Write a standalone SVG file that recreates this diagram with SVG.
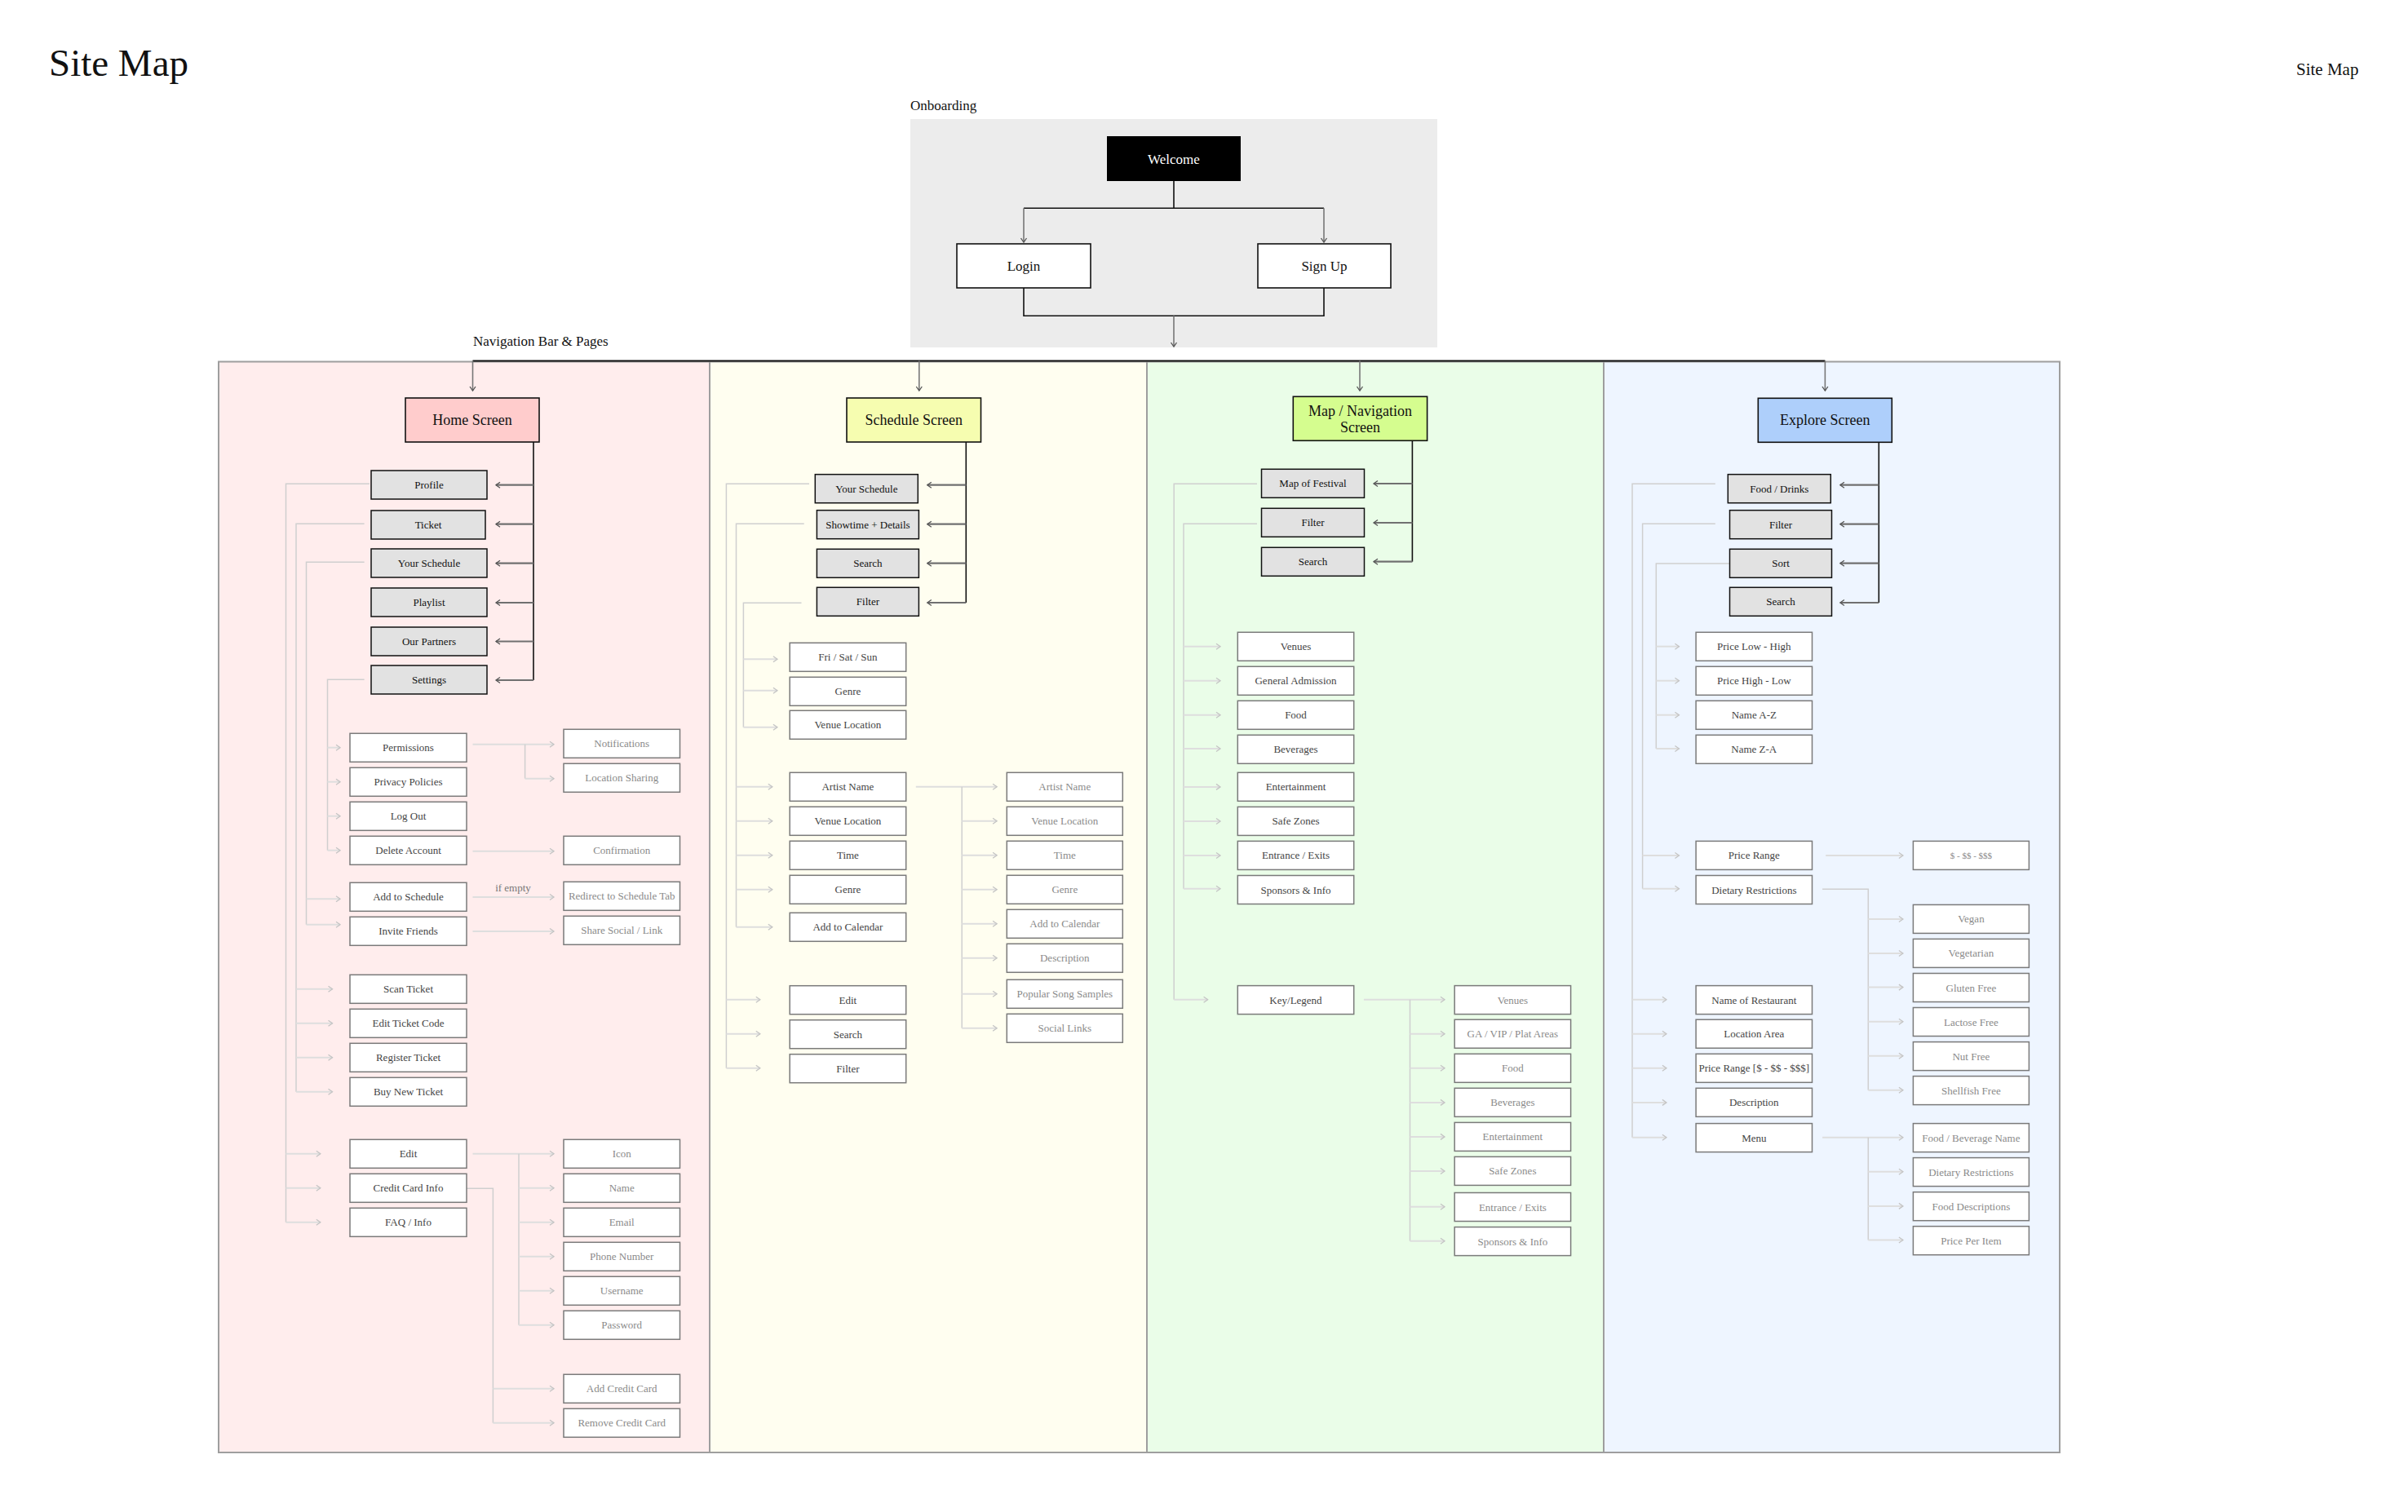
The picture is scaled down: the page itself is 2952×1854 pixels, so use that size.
<svg xmlns="http://www.w3.org/2000/svg" width="2952" height="1854" viewBox="0 0 2952 1854">
<defs>
<style>
text{font-family:"Liberation Serif","DejaVu Serif",serif;text-anchor:middle}
.lbl{text-anchor:start;fill:#111;font-size:17px}
.scr{stroke:#111;stroke-width:1.6}
.scrt{font-size:18px;fill:#111}
.p{fill:#e2e2e2;stroke:#111;stroke-width:1.5}
.s{fill:#fff;stroke:#7a7a7a;stroke-width:1.5}
.tp{font-size:13px;fill:#111}
.ts{font-size:13px;fill:#444}
.tt{font-size:13px;fill:#8a8a8a}
.blk{stroke:#111;stroke-width:1.6;fill:none}
.nav{stroke:#111;stroke-width:2;fill:none}
.darr{stroke:#777;stroke-width:1.6;fill:none;marker-end:url(#aD)}
.parr{stroke:#707070;stroke-width:2.2;fill:none;marker-end:url(#aM)}
.lt{stroke:#cfcfcf;stroke-width:1.5;fill:none}
.la{stroke:#dedede;stroke-width:2;fill:none;marker-end:url(#aL)}
.panel{stroke:#9e9e9e;stroke-width:2}
</style>
<marker id="aD" viewBox="-8 -6 10 12" refX="0" refY="0" markerWidth="10" markerHeight="12" markerUnits="userSpaceOnUse" orient="auto"><path d="M-5,-3.5 L0,0 L-5,3.5" fill="none" stroke="#555" stroke-width="1.3"/></marker>
<marker id="aM" viewBox="-8 -6 10 12" refX="0" refY="0" markerWidth="10" markerHeight="12" markerUnits="userSpaceOnUse" orient="auto"><path d="M-5,-3.5 L0,0 L-5,3.5" fill="none" stroke="#555" stroke-width="1.3"/></marker>
<marker id="aL" viewBox="-8 -6 10 12" refX="0" refY="0" markerWidth="10" markerHeight="12" markerUnits="userSpaceOnUse" orient="auto"><path d="M-5,-3.5 L0,0 L-5,3.5" fill="none" stroke="#c4c4c4" stroke-width="1.3"/></marker>
</defs>
<rect width="2952" height="1854" fill="#fff"/>

<g id="titles">
<text x="60" y="93" style="text-anchor:start;font-size:47px;fill:#111">Site Map</text>
<text x="2815" y="92" style="text-anchor:start;font-size:21px;fill:#111">Site Map</text>
<text class="lbl" x="1116" y="135">Onboarding</text>
<text class="lbl" x="580" y="424">Navigation Bar &amp; Pages</text>
</g>

<g id="areas">
<rect x="1116" y="146" width="646" height="280" fill="#ececec"/>
<rect class="panel" x="268" y="443.5" width="602" height="1337.5" fill="#ffeded"/>
<rect class="panel" x="870" y="443.5" width="536" height="1337.5" fill="#fffef0"/>
<rect class="panel" x="1406" y="443.5" width="560" height="1337.5" fill="#eafde8"/>
<rect class="panel" x="1966" y="443.5" width="559" height="1337.5" fill="#eef5ff"/>
</g>

<g id="connectors">
<path class="blk" d="M1439,222 V255.3 M1255,255.3 H1623"/>
<path class="darr" d="M1255,255.3 V297"/>
<path class="darr" d="M1623,255.3 V297"/>
<path class="blk" d="M1255,353 V387.3 H1623 V353"/>
<path class="darr" d="M1439,387.3 V425"/>
<path class="nav" d="M579.5,442.5 H2237.4"/>
<path class="darr" d="M579.5,442.5 V479"/>
<path class="darr" d="M1126.8,442.5 V479"/>
<path class="darr" d="M1667,442.5 V479"/>
<path class="darr" d="M2237.4,442.5 V479"/>

<path class="blk" d="M654,542 V834"/>
<path class="parr" d="M654,594.7 H608"/>
<path class="parr" d="M654,642.7 H608"/>
<path class="parr" d="M654,690.7 H608"/>
<path class="parr" d="M654,739 H608"/>
<path class="parr" d="M654,786.5 H608"/>
<path class="parr" d="M654,834 H608"/>
<path class="lt" d="M453,593.3 H350.5 V1498.7"/>
<path class="lt" d="M446.6,642.3 H363 V1338.7"/>
<path class="lt" d="M446.6,689.3 H375.5 V1133.7"/>
<path class="lt" d="M446.6,833.3 H401.5 V1042.7"/>
<path class="la" d="M401.5,916.7 H417"/>
<path class="la" d="M401.5,958.7 H417"/>
<path class="la" d="M401.5,1000.7 H417"/>
<path class="la" d="M401.5,1042.7 H417"/>
<path class="la" d="M375.5,1102.3 H417"/>
<path class="la" d="M375.5,1133.7 H417"/>
<path class="la" d="M363,1212.7 H407.5"/>
<path class="la" d="M363,1254.7 H407.5"/>
<path class="la" d="M363,1296.7 H407.5"/>
<path class="la" d="M363,1338.7 H407.5"/>
<path class="la" d="M350.5,1414.7 H392.8"/>
<path class="la" d="M350.5,1456.7 H392.8"/>
<path class="la" d="M350.5,1498.7 H392.8"/>
<path class="la" d="M579.5,912.7 H679"/>
<path class="lt" d="M643.6,912.7 V954.7"/>
<path class="la" d="M643.6,954.7 H679"/>
<path class="la" d="M579.5,1043.7 H679"/>
<path class="la" d="M579.5,1100 H679"/>
<text x="629" y="1093" style="font-size:13px;fill:#777">if empty</text>
<path class="la" d="M579.5,1142 H679"/>
<path class="la" d="M579.5,1414.7 H679"/>
<path class="lt" d="M636,1414.7 V1624.7"/>
<path class="la" d="M636,1456.7 H679"/>
<path class="la" d="M636,1498.7 H679"/>
<path class="la" d="M636,1540.7 H679"/>
<path class="la" d="M636,1582.7 H679"/>
<path class="la" d="M636,1624.7 H679"/>
<path class="lt" d="M571.6,1457.3 H604.4 V1744.7"/>
<path class="la" d="M604.4,1702.7 H679"/>
<path class="la" d="M604.4,1744.7 H679"/>

<path class="blk" d="M1184.3,542 V739"/>
<path class="parr" d="M1184.3,594.7 H1136.8"/>
<path class="parr" d="M1184.3,642.7 H1136.8"/>
<path class="parr" d="M1184.3,690.7 H1136.8"/>
<path class="parr" d="M1184.3,739 H1136.8"/>
<path class="lt" d="M992,593.3 H890.4 V1309.7"/>
<path class="lt" d="M985.7,642.3 H902.5 V1136.7"/>
<path class="lt" d="M982.5,739.3 H911.4 V891.7"/>
<path class="la" d="M911.4,808.3 H952.9"/>
<path class="la" d="M911.4,846.7 H952.9"/>
<path class="la" d="M911.4,891.7 H952.9"/>
<path class="la" d="M902.5,964.7 H946.8"/>
<path class="la" d="M902.5,1006.7 H946.8"/>
<path class="la" d="M902.5,1048.7 H946.8"/>
<path class="la" d="M902.5,1090.7 H946.8"/>
<path class="la" d="M902.5,1136.7 H946.8"/>
<path class="la" d="M890.4,1225.7 H931.8"/>
<path class="la" d="M890.4,1267.7 H931.8"/>
<path class="la" d="M890.4,1309.7 H931.8"/>
<path class="la" d="M1122.8,964.7 H1222.1"/>
<path class="lt" d="M1179.2,964.7 V1260.7"/>
<path class="la" d="M1179.2,1006.7 H1222.1"/>
<path class="la" d="M1179.2,1048.7 H1222.1"/>
<path class="la" d="M1179.2,1090.7 H1222.1"/>
<path class="la" d="M1179.2,1132.7 H1222.1"/>
<path class="la" d="M1179.2,1174.7 H1222.1"/>
<path class="la" d="M1179.2,1218.7 H1222.1"/>
<path class="la" d="M1179.2,1260.7 H1222.1"/>

<path class="blk" d="M1731.4,540.3 V688.7"/>
<path class="parr" d="M1731.4,593 H1684"/>
<path class="parr" d="M1731.4,641 H1684"/>
<path class="parr" d="M1731.4,688.7 H1684"/>
<path class="lt" d="M1541,593.3 H1439.2 V1225.7"/>
<path class="lt" d="M1541,642.3 H1451 V1089.8"/>
<path class="la" d="M1451,792.7 H1496"/>
<path class="la" d="M1451,834.7 H1496"/>
<path class="la" d="M1451,876.7 H1496"/>
<path class="la" d="M1451,918 H1496"/>
<path class="la" d="M1451,964.9 H1496"/>
<path class="la" d="M1451,1007 H1496"/>
<path class="la" d="M1451,1049 H1496"/>
<path class="la" d="M1451,1089.8 H1496"/>
<path class="la" d="M1439.2,1225.7 H1480.6"/>
<path class="la" d="M1671.9,1225.7 H1771"/>
<path class="lt" d="M1728.5,1225.7 V1521.7"/>
<path class="la" d="M1728.5,1267.8 H1771"/>
<path class="la" d="M1728.5,1309.8 H1771"/>
<path class="la" d="M1728.5,1351.9 H1771"/>
<path class="la" d="M1728.5,1393.9 H1771"/>
<path class="la" d="M1728.5,1436 H1771"/>
<path class="la" d="M1728.5,1479.7 H1771"/>
<path class="la" d="M1728.5,1521.7 H1771"/>

<path class="blk" d="M2303.3,542.3 V739"/>
<path class="parr" d="M2303.3,594.7 H2255.9"/>
<path class="parr" d="M2303.3,642.7 H2255.9"/>
<path class="parr" d="M2303.3,690.7 H2255.9"/>
<path class="parr" d="M2303.3,739 H2255.9"/>
<path class="lt" d="M2102.8,593.3 H2001 V1394.7"/>
<path class="lt" d="M2102.8,642.3 H2013.6 V1089.8"/>
<path class="lt" d="M2120.5,691 H2030.3 V918"/>
<path class="la" d="M2030.3,792.7 H2058.4"/>
<path class="la" d="M2030.3,834.7 H2058.4"/>
<path class="la" d="M2030.3,876.7 H2058.4"/>
<path class="la" d="M2030.3,918 H2058.4"/>
<path class="la" d="M2013.6,1049 H2058.4"/>
<path class="la" d="M2013.6,1089.8 H2058.4"/>
<path class="la" d="M2001,1225.7 H2042.9"/>
<path class="la" d="M2001,1267.8 H2042.9"/>
<path class="la" d="M2001,1309.8 H2042.9"/>
<path class="la" d="M2001,1351.9 H2042.9"/>
<path class="la" d="M2001,1394.7 H2042.9"/>
<path class="la" d="M2238.2,1049 H2332.9"/>
<path class="lt" d="M2234.1,1090.2 H2290.3 V1336.8"/>
<path class="la" d="M2290.3,1127 H2332.9"/>
<path class="la" d="M2290.3,1169 H2332.9"/>
<path class="la" d="M2290.3,1210.6 H2332.9"/>
<path class="la" d="M2290.3,1252.7 H2332.9"/>
<path class="la" d="M2290.3,1294.7 H2332.9"/>
<path class="la" d="M2290.3,1336.8 H2332.9"/>
<path class="la" d="M2234.1,1394.7 H2332.9"/>
<path class="lt" d="M2290.3,1394.7 V1520.5"/>
<path class="la" d="M2290.3,1436.8 H2332.9"/>
<path class="la" d="M2290.3,1478.9 H2332.9"/>
<path class="la" d="M2290.3,1520.5 H2332.9"/>
</g>

<g id="n-welcome"><rect x="1357" y="167" width="164" height="55" fill="#000"/><text x="1439" y="200.5" style="font-size:17px;fill:#fff">Welcome</text></g>
<g id="n-login"><rect x="1173" y="299" width="164" height="54" fill="#fff" stroke="#111" stroke-width="1.6"/><text x="1255" y="331.5" style="font-size:17px;fill:#111">Login</text></g>
<g id="n-signup"><rect x="1542" y="299" width="163" height="54" fill="#fff" stroke="#111" stroke-width="1.6"/><text x="1623.5" y="331.5" style="font-size:17px;fill:#111">Sign Up</text></g>

<g id="h-home"><rect class="scr" x="497" y="488" width="164" height="54" fill="#ffcccc"/><text class="scrt" x="579" y="521">Home Screen</text></g>
<g id="h-profile"><rect class="p" x="455" y="577" width="142" height="35"/><text class="tp" x="526" y="599">Profile</text></g>
<g id="h-ticket"><rect class="p" x="455" y="626" width="140" height="35"/><text class="tp" x="525" y="648">Ticket</text></g>
<g id="h-yoursched"><rect class="p" x="455" y="673" width="142" height="35"/><text class="tp" x="526" y="695">Your Schedule</text></g>
<g id="h-playlist"><rect class="p" x="455" y="721" width="142" height="35"/><text class="tp" x="526" y="743">Playlist</text></g>
<g id="h-partners"><rect class="p" x="455" y="769" width="142" height="35"/><text class="tp" x="526" y="791">Our Partners</text></g>
<g id="h-settings"><rect class="p" x="455" y="816" width="142" height="35"/><text class="tp" x="526" y="838">Settings</text></g>

<g id="h-permissions"><rect class="s" x="429" y="899.3" width="143" height="35"/><text class="ts" x="500.5" y="921.3">Permissions</text></g>
<g id="h-privacy"><rect class="s" x="429" y="941.3" width="143" height="35"/><text class="ts" x="500.5" y="963.3">Privacy Policies</text></g>
<g id="h-logout"><rect class="s" x="429" y="983.3" width="143" height="35"/><text class="ts" x="500.5" y="1005.3">Log Out</text></g>
<g id="h-delete"><rect class="s" x="429" y="1025.3" width="143" height="35"/><text class="ts" x="500.5" y="1047.3">Delete Account</text></g>
<g id="h-addsched"><rect class="s" x="429" y="1082.3" width="143" height="35"/><text class="ts" x="500.5" y="1104.3">Add to Schedule</text></g>
<g id="h-invite"><rect class="s" x="429" y="1124.3" width="143" height="35"/><text class="ts" x="500.5" y="1146.3">Invite Friends</text></g>
<g id="h-scan"><rect class="s" x="429" y="1195.3" width="143" height="35"/><text class="ts" x="500.5" y="1217.3">Scan Ticket</text></g>
<g id="h-editcode"><rect class="s" x="429" y="1237.3" width="143" height="35"/><text class="ts" x="500.5" y="1259.3">Edit Ticket Code</text></g>
<g id="h-register"><rect class="s" x="429" y="1279.3" width="143" height="35"/><text class="ts" x="500.5" y="1301.3">Register Ticket</text></g>
<g id="h-buy"><rect class="s" x="429" y="1321.3" width="143" height="35"/><text class="ts" x="500.5" y="1343.3">Buy New Ticket</text></g>
<g id="h-edit"><rect class="s" x="429" y="1397.3" width="143" height="35"/><text class="ts" x="500.5" y="1419.3">Edit</text></g>
<g id="h-cc"><rect class="s" x="429" y="1439.3" width="143" height="35"/><text class="ts" x="500.5" y="1461.3">Credit Card Info</text></g>
<g id="h-faq"><rect class="s" x="429" y="1481.3" width="143" height="35"/><text class="ts" x="500.5" y="1503.3">FAQ / Info</text></g>

<g id="h-notif"><rect class="s" x="691" y="894.3" width="142.5" height="35"/><text class="tt" x="762.2" y="916.3">Notifications</text></g>
<g id="h-locshare"><rect class="s" x="691" y="936.3" width="142.5" height="35"/><text class="tt" x="762.2" y="958.3">Location Sharing</text></g>
<g id="h-confirm"><rect class="s" x="691" y="1025.3" width="142.5" height="35"/><text class="tt" x="762.2" y="1047.3">Confirmation</text></g>
<g id="h-redirect"><rect class="s" x="691" y="1081.3" width="142.5" height="35"/><text class="tt" x="762.2" y="1103.3">Redirect to Schedule Tab</text></g>
<g id="h-share"><rect class="s" x="691" y="1123.3" width="142.5" height="35"/><text class="tt" x="762.2" y="1145.3">Share Social / Link</text></g>
<g id="h-icon"><rect class="s" x="691" y="1397.3" width="142.5" height="35"/><text class="tt" x="762.2" y="1419.3">Icon</text></g>
<g id="h-name"><rect class="s" x="691" y="1439.3" width="142.5" height="35"/><text class="tt" x="762.2" y="1461.3">Name</text></g>
<g id="h-email"><rect class="s" x="691" y="1481.3" width="142.5" height="35"/><text class="tt" x="762.2" y="1503.3">Email</text></g>
<g id="h-phone"><rect class="s" x="691" y="1523.3" width="142.5" height="35"/><text class="tt" x="762.2" y="1545.3">Phone Number</text></g>
<g id="h-username"><rect class="s" x="691" y="1565.3" width="142.5" height="35"/><text class="tt" x="762.2" y="1587.3">Username</text></g>
<g id="h-password"><rect class="s" x="691" y="1607.3" width="142.5" height="35"/><text class="tt" x="762.2" y="1629.3">Password</text></g>
<g id="h-addcc"><rect class="s" x="691" y="1685.3" width="142.5" height="35"/><text class="tt" x="762.2" y="1707.3">Add Credit Card</text></g>
<g id="h-remcc"><rect class="s" x="691" y="1727.3" width="142.5" height="35"/><text class="tt" x="762.2" y="1749.3">Remove Credit Card</text></g>

<g id="s-screen"><rect class="scr" x="1038" y="488" width="164.5" height="54" fill="#f6fdb0"/><text class="scrt" x="1120.2" y="521">Schedule Screen</text></g>
<g id="s-yours"><rect class="p" x="999.3" y="581.7" width="126" height="35"/><text class="tp" x="1062.3" y="603.7">Your Schedule</text></g>
<g id="s-showtime"><rect class="p" x="1001.4" y="625.7" width="125" height="35"/><text class="tp" x="1063.9" y="647.7">Showtime + Details</text></g>
<g id="s-search"><rect class="p" x="1001.4" y="673.3" width="125" height="35"/><text class="tp" x="1063.9" y="695.3">Search</text></g>
<g id="s-filter"><rect class="p" x="1001.4" y="720.3" width="125" height="35"/><text class="tp" x="1063.9" y="742.3">Filter</text></g>

<g id="s-fri"><rect class="s" x="968.2" y="788.3" width="142.5" height="35"/><text class="ts" x="1039.4" y="810.3">Fri / Sat / Sun</text></g>
<g id="s-fgenre"><rect class="s" x="968.2" y="830.3" width="142.5" height="35"/><text class="ts" x="1039.4" y="852.3">Genre</text></g>
<g id="s-fvenue"><rect class="s" x="968.2" y="871.3" width="142.5" height="35"/><text class="ts" x="1039.4" y="893.3">Venue Location</text></g>
<g id="s-artist"><rect class="s" x="968.2" y="947.3" width="142.5" height="35"/><text class="ts" x="1039.4" y="969.3">Artist Name</text></g>
<g id="s-venue"><rect class="s" x="968.2" y="989.3" width="142.5" height="35"/><text class="ts" x="1039.4" y="1011.3">Venue Location</text></g>
<g id="s-time"><rect class="s" x="968.2" y="1031.3" width="142.5" height="35"/><text class="ts" x="1039.4" y="1053.3">Time</text></g>
<g id="s-genre"><rect class="s" x="968.2" y="1073.3" width="142.5" height="35"/><text class="ts" x="1039.4" y="1095.3">Genre</text></g>
<g id="s-addcal"><rect class="s" x="968.2" y="1119.3" width="142.5" height="35"/><text class="ts" x="1039.4" y="1141.3">Add to Calendar</text></g>
<g id="s-edit"><rect class="s" x="968.2" y="1208.7" width="142.5" height="35"/><text class="ts" x="1039.4" y="1230.7">Edit</text></g>
<g id="s-search2"><rect class="s" x="968.2" y="1250.7" width="142.5" height="35"/><text class="ts" x="1039.4" y="1272.7">Search</text></g>
<g id="s-filter2"><rect class="s" x="968.2" y="1292.7" width="142.5" height="35"/><text class="ts" x="1039.4" y="1314.7">Filter</text></g>

<g id="s-d-artist"><rect class="s" x="1234.3" y="947.3" width="142" height="35"/><text class="tt" x="1305.3" y="969.3">Artist Name</text></g>
<g id="s-d-venue"><rect class="s" x="1234.3" y="989.3" width="142" height="35"/><text class="tt" x="1305.3" y="1011.3">Venue Location</text></g>
<g id="s-d-time"><rect class="s" x="1234.3" y="1031.3" width="142" height="35"/><text class="tt" x="1305.3" y="1053.3">Time</text></g>
<g id="s-d-genre"><rect class="s" x="1234.3" y="1073.3" width="142" height="35"/><text class="tt" x="1305.3" y="1095.3">Genre</text></g>
<g id="s-d-addcal"><rect class="s" x="1234.3" y="1115.3" width="142" height="35"/><text class="tt" x="1305.3" y="1137.3">Add to Calendar</text></g>
<g id="s-d-desc"><rect class="s" x="1234.3" y="1157.3" width="142" height="35"/><text class="tt" x="1305.3" y="1179.3">Description</text></g>
<g id="s-d-songs"><rect class="s" x="1234.3" y="1201.3" width="142" height="35"/><text class="tt" x="1305.3" y="1223.3">Popular Song Samples</text></g>
<g id="s-d-social"><rect class="s" x="1234.3" y="1243.3" width="142" height="35"/><text class="tt" x="1305.3" y="1265.3">Social Links</text></g>

<g id="m-screen"><rect class="scr" x="1585.3" y="486.3" width="164.3" height="54" fill="#d5fd8f"/><text class="scrt" x="1667.4" y="509.5">Map / Navigation</text><text class="scrt" x="1667.4" y="529.5">Screen</text></g>
<g id="m-festival"><rect class="p" x="1546.5" y="575.3" width="126" height="35"/><text class="tp" x="1609.5" y="597.3">Map of Festival</text></g>
<g id="m-filter"><rect class="p" x="1546.5" y="623.3" width="126" height="35"/><text class="tp" x="1609.5" y="645.3">Filter</text></g>
<g id="m-search"><rect class="p" x="1546.5" y="671.3" width="126" height="35"/><text class="tp" x="1609.5" y="693.3">Search</text></g>

<g id="m-venues"><rect class="s" x="1517.3" y="775.3" width="142.4" height="35"/><text class="ts" x="1588.5" y="797.3">Venues</text></g>
<g id="m-ga"><rect class="s" x="1517.3" y="817.3" width="142.4" height="35"/><text class="ts" x="1588.5" y="839.3">General Admission</text></g>
<g id="m-food"><rect class="s" x="1517.3" y="859.3" width="142.4" height="35"/><text class="ts" x="1588.5" y="881.3">Food</text></g>
<g id="m-bev"><rect class="s" x="1517.3" y="901.3" width="142.4" height="35"/><text class="ts" x="1588.5" y="923.3">Beverages</text></g>
<g id="m-ent"><rect class="s" x="1517.3" y="947.3" width="142.4" height="35"/><text class="ts" x="1588.5" y="969.3">Entertainment</text></g>
<g id="m-safe"><rect class="s" x="1517.3" y="989.4" width="142.4" height="35"/><text class="ts" x="1588.5" y="1011.4">Safe Zones</text></g>
<g id="m-entr"><rect class="s" x="1517.3" y="1031.4" width="142.4" height="35"/><text class="ts" x="1588.5" y="1053.4">Entrance / Exits</text></g>
<g id="m-spons"><rect class="s" x="1517.3" y="1073.5" width="142.4" height="35"/><text class="ts" x="1588.5" y="1095.5">Sponsors &amp; Info</text></g>
<g id="m-key"><rect class="s" x="1517.3" y="1208.6" width="142.4" height="35"/><text class="ts" x="1588.5" y="1230.6">Key/Legend</text></g>

<g id="m-k-venues"><rect class="s" x="1783.2" y="1208.6" width="142.4" height="35"/><text class="tt" x="1854.4" y="1230.6">Venues</text></g>
<g id="m-k-ga"><rect class="s" x="1783.2" y="1250.2" width="142.4" height="35"/><text class="tt" x="1854.4" y="1272.2">GA / VIP / Plat Areas</text></g>
<g id="m-k-food"><rect class="s" x="1783.2" y="1292.3" width="142.4" height="35"/><text class="tt" x="1854.4" y="1314.3">Food</text></g>
<g id="m-k-bev"><rect class="s" x="1783.2" y="1334.3" width="142.4" height="35"/><text class="tt" x="1854.4" y="1356.3">Beverages</text></g>
<g id="m-k-ent"><rect class="s" x="1783.2" y="1376.4" width="142.4" height="35"/><text class="tt" x="1854.4" y="1398.4">Entertainment</text></g>
<g id="m-k-safe"><rect class="s" x="1783.2" y="1418.4" width="142.4" height="35"/><text class="tt" x="1854.4" y="1440.4">Safe Zones</text></g>
<g id="m-k-entr"><rect class="s" x="1783.2" y="1462.5" width="142.4" height="35"/><text class="tt" x="1854.4" y="1484.5">Entrance / Exits</text></g>
<g id="m-k-spons"><rect class="s" x="1783.2" y="1504.6" width="142.4" height="35"/><text class="tt" x="1854.4" y="1526.6">Sponsors &amp; Info</text></g>

<g id="e-screen"><rect class="scr" x="2155.3" y="488.3" width="164" height="54" fill="#aecffb"/><text class="scrt" x="2237.3" y="521.3">Explore Screen</text></g>
<g id="e-food"><rect class="p" x="2118.3" y="581.7" width="126" height="35"/><text class="tp" x="2181.3" y="603.7">Food / Drinks</text></g>
<g id="e-filter"><rect class="p" x="2120.5" y="625.7" width="125" height="35"/><text class="tp" x="2183" y="647.7">Filter</text></g>
<g id="e-sort"><rect class="p" x="2120.5" y="673.3" width="125" height="35"/><text class="tp" x="2183" y="695.3">Sort</text></g>
<g id="e-search"><rect class="p" x="2120.5" y="720.3" width="125" height="35"/><text class="tp" x="2183" y="742.3">Search</text></g>

<g id="e-plh"><rect class="s" x="2079.1" y="775.3" width="142.4" height="35"/><text class="ts" x="2150.3" y="797.3">Price Low - High</text></g>
<g id="e-phl"><rect class="s" x="2079.1" y="817.3" width="142.4" height="35"/><text class="ts" x="2150.3" y="839.3">Price High - Low</text></g>
<g id="e-naz"><rect class="s" x="2079.1" y="859.3" width="142.4" height="35"/><text class="ts" x="2150.3" y="881.3">Name A-Z</text></g>
<g id="e-nza"><rect class="s" x="2079.1" y="901.3" width="142.4" height="35"/><text class="ts" x="2150.3" y="923.3">Name Z-A</text></g>
<g id="e-prange"><rect class="s" x="2079.1" y="1031.4" width="142.4" height="35"/><text class="ts" x="2150.3" y="1053.4">Price Range</text></g>
<g id="e-diet"><rect class="s" x="2079.1" y="1073.5" width="142.4" height="35"/><text class="ts" x="2150.3" y="1095.5">Dietary Restrictions</text></g>
<g id="e-rest"><rect class="s" x="2079.1" y="1208.6" width="142.4" height="35"/><text class="ts" x="2150.3" y="1230.6">Name of Restaurant</text></g>
<g id="e-loc"><rect class="s" x="2079.1" y="1250.2" width="142.4" height="35"/><text class="ts" x="2150.3" y="1272.2">Location Area</text></g>
<g id="e-pr2"><rect class="s" x="2079.1" y="1292.3" width="142.4" height="35"/><text class="ts" x="2150.3" y="1314.3">Price Range [$ - $$ - $$$]</text></g>
<g id="e-desc"><rect class="s" x="2079.1" y="1334.3" width="142.4" height="35"/><text class="ts" x="2150.3" y="1356.3">Description</text></g>
<g id="e-menu"><rect class="s" x="2079.1" y="1377.6" width="142.4" height="35"/><text class="ts" x="2150.3" y="1399.6">Menu</text></g>

<g id="e-dollars"><rect class="s" x="2345.4" y="1031.4" width="142" height="35"/><text class="tt" x="2416.4" y="1053" style="font-size:11px">$ - $$ - $$$</text></g>
<g id="e-vegan"><rect class="s" x="2345.4" y="1109.4" width="142" height="35"/><text class="tt" x="2416.4" y="1131.4">Vegan</text></g>
<g id="e-vegetarian"><rect class="s" x="2345.4" y="1151.4" width="142" height="35"/><text class="tt" x="2416.4" y="1173.4">Vegetarian</text></g>
<g id="e-gluten"><rect class="s" x="2345.4" y="1193.5" width="142" height="35"/><text class="tt" x="2416.4" y="1215.5">Gluten Free</text></g>
<g id="e-lactose"><rect class="s" x="2345.4" y="1235.5" width="142" height="35"/><text class="tt" x="2416.4" y="1257.5">Lactose Free</text></g>
<g id="e-nut"><rect class="s" x="2345.4" y="1277.6" width="142" height="35"/><text class="tt" x="2416.4" y="1299.6">Nut Free</text></g>
<g id="e-shell"><rect class="s" x="2345.4" y="1319.6" width="142" height="35"/><text class="tt" x="2416.4" y="1341.6">Shellfish Free</text></g>
<g id="e-fbname"><rect class="s" x="2345.4" y="1377.6" width="142" height="35"/><text class="tt" x="2416.4" y="1399.6">Food / Beverage Name</text></g>
<g id="e-mdiet"><rect class="s" x="2345.4" y="1419.6" width="142" height="35"/><text class="tt" x="2416.4" y="1441.6">Dietary Restrictions</text></g>
<g id="e-fdesc"><rect class="s" x="2345.4" y="1461.7" width="142" height="35"/><text class="tt" x="2416.4" y="1483.7">Food Descriptions</text></g>
<g id="e-ppi"><rect class="s" x="2345.4" y="1503.7" width="142" height="35"/><text class="tt" x="2416.4" y="1525.7">Price Per Item</text></g>
</svg>
